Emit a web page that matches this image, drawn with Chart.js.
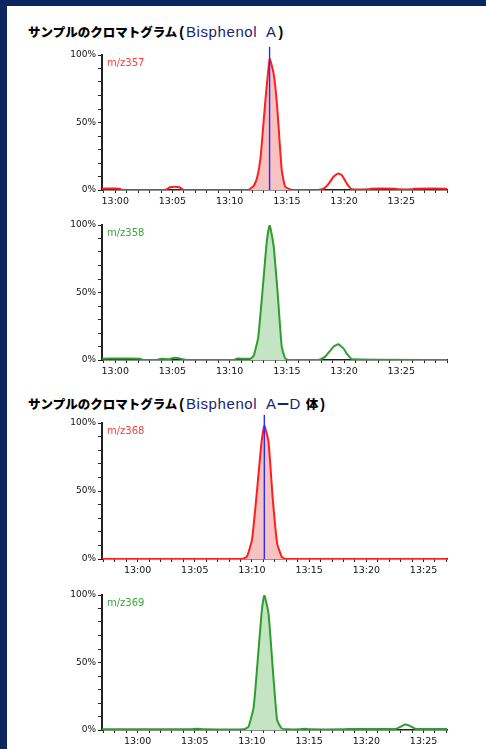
<!DOCTYPE html>
<html>
<head>
<meta charset="utf-8">
<script src="https://cdn.jsdelivr.net/npm/chart.js@4.4.0/dist/chart.umd.min.js"></script>
<style>
  body { margin: 0; width: 486px; height: 749px; background: #0c2660; position: relative; overflow: hidden; }
  .panel { position: absolute; left: 7px; top: 6px; right: 0; bottom: 0; background: #fff; }
  .title { position: absolute; left: 28px; height: 17px; line-height: 17px; white-space: pre; font-size: 12.5px; }
  .jp { font-family: 'Noto Sans CJK JP', sans-serif; font-weight: 900; color: #000; }
  .par { font-family: 'Liberation Sans', Arial, sans-serif; font-weight: bold; font-size: 14px; color: #000; margin: 0 2px; }
  .en { font-family: 'Liberation Sans', Arial, sans-serif; color: #1a2470; font-size: 15px; letter-spacing: 0.6px; }
  .dash { font-family: 'Noto Sans CJK JP', sans-serif; color: #1a2470; font-weight: bold; font-size: 13px; }
  .box { position: absolute; left: 0; width: 486px; }
</style>
</head>
<body>
<div class="panel"></div>
<div class="title" style="top:23px"><span class="jp">サンプルのクロマトグラム</span><span class="par">(</span><span class="en">Bisphenol  A</span><span class="par">)</span></div>
<div class="title" style="top:395px"><span class="jp">サンプルのクロマトグラム</span><span class="par">(</span><span class="en">Bisphenol  A</span><span class="dash">ー</span><span class="en">D </span><span class="jp">体</span><span class="par">)</span></div>
<div class="box" style="top:43px;height:169px"><canvas id="c357"></canvas></div>
<div class="box" style="top:213px;height:169px"><canvas id="c358"></canvas></div>
<div class="box" style="top:411px;height:170px"><canvas id="c368"></canvas></div>
<div class="box" style="top:583px;height:169px"><canvas id="c369"></canvas></div>
<script>
// retention time in minutes after 13:00, intensity in %
const t357 = [-1.16, 0.4, 0.6, 4.3, 4.8, 5.2, 5.6, 6.0, 11.6, 12.1, 12.4, 12.7, 13.1, 13.5, 13.85, 14.15, 14.55, 14.85, 15.3, 15.6, 17.7, 18.2, 18.6, 19.1, 19.5, 19.8, 20.3, 20.7, 22.2, 22.3, 24.5, 24.7, 26.0, 26.1, 29.0];
const i357 = [1, 1, 0, 0, 2, 2.5, 2, 0, 0, 3, 9, 24, 64, 97, 86, 62, 15, 2.5, 0.5, 0, 0, 1, 4, 10, 12.3, 11, 4, 0.5, 0.5, 1, 1, 0.5, 0.5, 1, 1];

const t358 = [-1.16, 2.2, 2.4, 3.6, 3.9, 4.4, 4.7, 5.2, 5.6, 6.3, 10.4, 10.6, 11.8, 12.1, 12.5, 12.95, 13.25, 13.5, 13.85, 14.2, 14.55, 14.85, 15.2, 17.5, 17.9, 18.35, 18.7, 19.1, 19.5, 19.95, 20.3, 20.7, 29.0];
const i358 = [1, 1, 0, 0, 0.8, 0.8, 0.5, 1.7, 1.2, 0, 0, 1, 1, 3, 17, 59, 88, 100, 84, 49, 10, 1.2, 0, 0, 0.5, 2.5, 6, 10, 11.6, 8.6, 4, 0.5, 0];

const t368 = [-3.11, 9.1, 9.55, 10.0, 10.45, 10.8, 11.08, 11.45, 11.8, 12.2, 12.6, 12.9, 27.05];
const i368 = [0, 0, 1.7, 14, 51, 83, 98, 86, 46, 11.5, 1.7, 0, 0];

const t369 = [-3.11, 4.6, 5.2, 5.8, 9.3, 9.7, 10.15, 10.6, 10.87, 11.08, 11.45, 11.85, 12.2, 12.6, 13.1, 14.2, 14.6, 15.0, 18.0, 18.3, 22.6, 23.0, 23.4, 23.8, 24.3, 27.05];
const i369 = [0.5, 0.5, 1, 0.5, 0.5, 2.5, 17, 62, 89, 100, 86, 42, 7.4, 1.2, 0.5, 0.5, 1, 0.5, 0.5, 0.8, 0.8, 2.5, 4, 3, 0.8, 0.8];

const tickMinutes = [0, 5, 10, 15, 20, 25];
const tickLabels = ['13:00', '13:05', '13:10', '13:15', '13:20', '13:25'];
const yTickValues = [0, 50, 100];
const yTickLabels = ['0%', '50%', '100%'];

const RED = { line: '#ff1f1f', fill: '#f6c2c2', text: '#ff3b3b' };
const GREEN = { line: '#2e9e2e', fill: '#c4e4c4', text: '#3aa63a' };

Chart.defaults.font.family = "'DejaVu Sans', sans-serif";
Chart.defaults.animation = false;

const mzLabel = {
  id: 'mzLabel',
  afterDatasetsDraw(chart, args, opts) {
    const { ctx, chartArea } = chart;
    ctx.save();
    ctx.font = "10px 'DejaVu Sans'";
    ctx.fillStyle = opts.color;
    ctx.textBaseline = 'middle';
    ctx.fillText(opts.text, chartArea.left + 5, chartArea.top + 8);
    ctx.restore();
  }
};

function chromatogram(id, times, values, range, peak, marker, colors, mz) {
  const pts = times.map((t, i) => ({ x: t, y: values[i] }));
  const fillPts = pts.filter(p => p.x >= peak[0] && p.x <= peak[1]);
  const datasets = [];
  if (marker !== null) {
    datasets.push({ data: [{ x: marker, y: 0 }, { x: marker, y: 106 }], borderColor: '#2b2bff', borderWidth: 1.4, pointRadius: 0, clip: false });
  }
  datasets.push({ data: pts, borderColor: colors.line, borderWidth: 2, pointRadius: 0, tension: 0.15, fill: false });
  datasets.push({ data: fillPts, borderWidth: 0, borderColor: 'rgba(0,0,0,0)', backgroundColor: colors.fill, pointRadius: 0, tension: 0.15, fill: 'origin' });

  new Chart(document.getElementById(id), {
    type: 'line',
    data: { datasets },
    plugins: [mzLabel],
    options: {
      responsive: true,
      maintainAspectRatio: false,
      layout: { padding: { top: 12, right: 39, bottom: 0, left: 0 } },
      plugins: {
        legend: { display: false },
        tooltip: { enabled: false },
        mzLabel: { text: mz, color: colors.text }
      },
      scales: {
        x: {
          type: 'linear',
          min: range[0],
          max: range[1],
          afterFit: s => { s.height = 22; },
          border: { color: '#222', width: 1.5 },
          grid: { drawOnChartArea: false, tickLength: 3, color: '#222' },
          ticks: {
            stepSize: 1,
            includeBounds: false,
            autoSkip: false,
            maxRotation: 0,
            padding: 3,
            color: '#111',
            font: { size: 9.5 },
            callback: v => {
              const k = tickMinutes.indexOf(v);
              return k < 0 ? '' : tickLabels[k];
            }
          }
        },
        y: {
          min: 0,
          max: 100,
          afterFit: s => { s.width = 102; },
          border: { color: '#222', width: 2 },
          grid: { drawOnChartArea: false, tickLength: 4, color: '#222' },
          ticks: {
            stepSize: 10,
            autoSkip: false,
            padding: 2,
            color: '#111',
            font: { size: 9 },
            callback: v => {
              const k = yTickValues.indexOf(v);
              return k < 0 ? '' : yTickLabels[k];
            }
          }
        }
      }
    }
  });
}

chromatogram('c357', t357, i357, [-1.16, 29.0], [11.6, 15.6], 13.49, RED, 'm/z357');
chromatogram('c358', t358, i358, [-1.16, 29.0], [11.8, 15.2], null, GREEN, 'm/z358');
chromatogram('c368', t368, i368, [-3.11, 27.05], [9.1, 12.9], 11.08, RED, 'm/z368');
chromatogram('c369', t369, i369, [-3.11, 27.05], [9.3, 13.1], null, GREEN, 'm/z369');
</script>
</body>
</html>
